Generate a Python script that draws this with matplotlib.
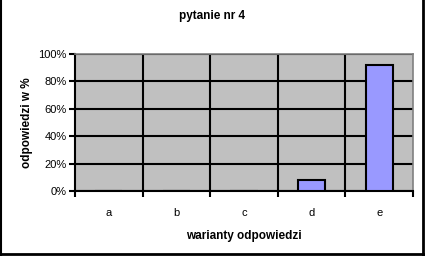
import numpy as np
import matplotlib.pyplot as plt
from matplotlib.ticker import FuncFormatter
from matplotlib.lines import Line2D

categories = ['a', 'b', 'c', 'd', 'e']
values = [0, 0, 0, 8, 92]

plt.rcParams['font.family'] = ['Liberation Sans', 'DejaVu Sans']

fig = plt.figure(figsize=(4.25, 2.56), dpi=100)
ax = fig.add_axes([75 / 425, 1 - 191 / 256, 338 / 425, 137 / 256])
ax.set_facecolor('#c0c0c0')

x = np.arange(len(categories))
ax.bar(x, values, width=0.4, color='#9999ff', edgecolor='black', linewidth=1.5, zorder=3)

ax.set_xlim(-0.5, len(categories) - 0.5)
ax.set_ylim(0, 100)
ax.set_yticks(np.arange(0, 101, 20))
ax.yaxis.set_major_formatter(FuncFormatter(lambda v, p: '%d%%' % v))
ax.set_xticks(x)
ax.set_xticklabels(categories)
ax.set_xticks(np.arange(-0.5, len(categories), 1), minor=True)

ax.grid(axis='y', color='black', linewidth=1.5, zorder=1)
for b in np.arange(0.5, len(categories) - 1, 1):
    ax.axvline(b, color='black', linewidth=1.5, zorder=1)

ax.tick_params(axis='x', which='major', length=0, pad=12, labelsize=8)
ax.tick_params(axis='x', which='minor', length=4, width=1.5, color='black')
ax.tick_params(axis='y', length=4, width=1.5, pad=2, labelsize=8)

ax.spines['left'].set_linewidth(1.5)
ax.spines['bottom'].set_linewidth(1.5)
ax.spines['top'].set_color('#808080')
ax.spines['right'].set_color('#808080')
ax.spines['top'].set_linewidth(1.2)
ax.spines['right'].set_linewidth(1.2)

ax.set_xlabel('warianty odpowiedzi', fontsize=8.5, fontweight='bold', labelpad=9)
ax.set_ylabel('odpowiedzi w %', fontsize=8.5, fontweight='bold', labelpad=4)
fig.text(212 / 425, 1 - 16 / 256, 'pytanie nr 4', ha='center', va='center',
         fontsize=8.5, fontweight='bold')

# ramka wykresu
fig.add_artist(Line2D([0.002, 0.002], [0, 1], color='black', linewidth=1.5, transform=fig.transFigure))
fig.add_artist(Line2D([0.995, 0.995], [0, 1], color='black', linewidth=2, transform=fig.transFigure))
fig.add_artist(Line2D([0, 1], [0.006, 0.006], color='black', linewidth=2, transform=fig.transFigure))

fig.savefig('out.png', dpi=100)
